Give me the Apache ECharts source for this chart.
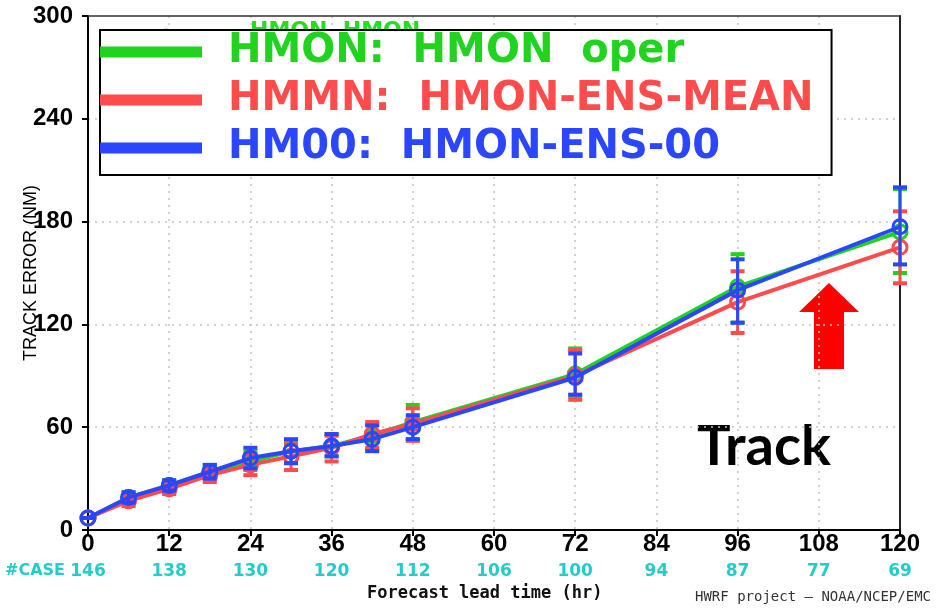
<!DOCTYPE html>
<html>
<head>
<meta charset="utf-8">
<script src="https://cdn.jsdelivr.net/npm/echarts@6/dist/echarts.min.js"></script>
<style>html,body{margin:0;padding:0;background:#fff}#c{width:936px;height:608px}</style>
</head>
<body>
<div id="c"></div>
<script>
var hours = [0, 6, 12, 18, 24, 30, 36, 42, 48, 72, 96, 120];
var xTicks = [0, 12, 24, 36, 48, 60, 72, 84, 96, 108, 120];
var caseCounts = [146, 138, 130, 120, 112, 106, 100, 94, 87, 77, 69];
var yTicks = [0, 60, 120, 180, 240, 300];

var hmonMean = [7, 19, 26, 34, 40, 46, 49, 55, 63, 91, 142, 174];
var hmonLow  = [7, 16, 23, 30, 35, 39, 43, 47, 53, 78, 121, 150];
var hmonHigh = [7, 22, 29, 38, 46, 52, 56, 62, 73, 106, 161, 199];

var hmmnMean = [7, 17, 24, 32, 38, 43, 48, 56, 62, 90, 133, 165];
var hmmnLow  = [7, 14, 21, 28, 32, 35, 40, 48, 52, 76, 115, 144];
var hmmnHigh = [7, 20, 27, 36, 44, 50, 55, 63, 71, 105, 151, 186];

var hm00Mean = [7, 19, 26, 34, 42, 46, 49, 53, 60, 89, 140, 177];
var hm00Low  = [7, 16, 23, 30, 36, 39, 43, 46, 53, 79, 121, 155];
var hm00High = [7, 22, 29, 38, 48, 53, 56, 61, 67, 103, 158, 200];

var seriesNames = ['HMON:  HMON  oper', 'HMMN:  HMON-ENS-MEAN', 'HM00:  HMON-ENS-00'];
var seriesColors = ['#1fd31f', '#ff4b4b', '#2b46ff'];

function pairs(xs, ys) { return xs.map(function (x, i) { return [x, ys[i]]; }); }
function triples(xs, lo, hi) { return xs.map(function (x, i) { return [x, lo[i], hi[i]]; }); }

function errSeries(name, color, lo, hi, z) {
  return {
    type: 'custom', name: name, z: z, clip: false, silent: true,
    data: triples(hours, lo, hi),
    encode: { x: 0, y: [1, 2] },
    renderItem: function (params, api) {
      var x = api.value(0);
      var pLo = api.coord([x, api.value(1)]);
      var pHi = api.coord([x, api.value(2)]);
      var w = 7;
      var st = { stroke: color, lineWidth: 3 };
      var cap = { stroke: color, lineWidth: 4 };
      return { type: 'group', children: [
        { type: 'line', shape: { x1: pLo[0], y1: pLo[1], x2: pHi[0], y2: pHi[1] }, style: st },
        { type: 'line', shape: { x1: pLo[0] - w, y1: pLo[1], x2: pLo[0] + w, y2: pLo[1] }, style: cap },
        { type: 'line', shape: { x1: pHi[0] - w, y1: pHi[1], x2: pHi[0] + w, y2: pHi[1] }, style: cap }
      ]};
    }
  };
}
function lineSeries(name, color, vals, z) {
  return {
    type: 'line', name: name, z: z, clip: false, color: color,
    data: pairs(hours, vals),
    symbol: 'circle', symbolSize: 14, showSymbol: true,
    lineStyle: { width: 4, color: color },
    itemStyle: { color: 'rgba(0,0,0,0)', borderColor: color, borderWidth: 3 }
  };
}

var gridSplit = { show: true, showMinLine: false, showMaxLine: false, lineStyle: { color: '#c4c4c4', type: [2, 5], width: 1.5 } };

var chart = echarts.init(document.getElementById('c'), null, { renderer: 'canvas' });
chart.setOption({
  animation: false,
  backgroundColor: '#fff',
  grid: { left: 88, right: 36, top: 16, bottom: 78, show: false },
  xAxis: [{
    type: 'value', min: 0, max: 120, interval: 12,
    axisLine: { lineStyle: { color: '#000', width: 2 } },
    axisTick: { show: true, length: 6, lineStyle: { color: '#000', width: 2 } },
    splitLine: gridSplit,
    axisLabel: {
      margin: 3,
      formatter: function (v) {
        var i = xTicks.indexOf(v);
        return '{t|' + v + '}\n{c|' + (i >= 0 ? caseCounts[i] : '') + '}';
      },
      rich: {
        t: { fontFamily: 'Liberation Sans', fontWeight: 'bold', fontSize: 24, lineHeight: 22, color: '#000' },
        c: { fontFamily: 'DejaVu Sans', fontWeight: 'bold', fontSize: 17, lineHeight: 34, color: '#22cccc' }
      }
    }
  }, {
    type: 'value', min: 0, max: 120, position: 'top',
    axisLine: { show: true, onZero: false, lineStyle: { color: '#333', width: 1.5 } },
    axisTick: { show: false }, axisLabel: { show: false }, splitLine: { show: false }
  }],
  yAxis: [{
    type: 'value', min: 0, max: 300, interval: 60,
    name: 'TRACK ERROR (NM)', nameLocation: 'middle', nameGap: 48, nameRotate: 90, nameMoveOverlap: false,
    nameTextStyle: { fontFamily: 'Liberation Sans', fontSize: 18, color: '#000' },
    axisLine: { show: true, lineStyle: { color: '#000', width: 2 } },
    axisTick: { show: true, length: 6, lineStyle: { color: '#000', width: 2 } },
    splitLine: gridSplit,
    axisLabel: {
      margin: 15, color: '#000',
      fontFamily: 'Liberation Sans', fontWeight: 'bold', fontSize: 24,
      formatter: function (v) { return yTicks.indexOf(v) >= 0 ? String(v) : ''; }
    }
  }, {
    type: 'value', min: 0, max: 300, position: 'right',
    axisLine: { show: true, onZero: false, lineStyle: { color: '#222', width: 2 } },
    axisTick: { show: false }, axisLabel: { show: false }, splitLine: { show: false }
  }],
  legend: {
    left: 100, top: 30, orient: 'vertical', selectedMode: false,
    icon: 'rect', itemWidth: 100, itemHeight: 9, itemGap: 4,
    padding: [0, 18, 5, 0],
    backgroundColor: '#fff', borderColor: '#000', borderWidth: 2,
    textStyle: { fontFamily: 'DejaVu Sans', fontWeight: 'bold', fontSize: 40, lineHeight: 44, padding: [0, 0, 0, 22] },
    data: seriesNames.map(function (n, i) { return { name: n, itemStyle: { color: seriesColors[i] }, textStyle: { color: seriesColors[i] } }; })
  },
  graphic: [
    { type: 'text', left: 250, top: 20, z: 0, style: { text: 'HMON  HMON', fontFamily: 'DejaVu Sans', fontWeight: 'bold', fontSize: 22, fill: '#22dd22' } },
    { type: 'circle', shape: { cx: 166, cy: 36, r: 6 }, z: 0, style: { fill: 'none', stroke: '#22dd22', lineWidth: 3 } },
    { type: 'text', left: 5, top: 563, style: { text: '#CASE', fontFamily: 'DejaVu Sans', fontWeight: 'bold', fontSize: 16, fill: '#22cccc' } },
    { type: 'text', left: 367, top: 585, style: { text: 'Forecast lead time (hr)', fontFamily: 'DejaVu Sans Mono', fontWeight: 'bold', fontSize: 17, fill: '#111' } },
    { type: 'text', left: 695, top: 590, style: { text: 'HWRF project \u2014 NOAA/NCEP/EMC', fontFamily: 'DejaVu Sans Mono', fontSize: 14, fill: '#333' } },
    { type: 'text', left: 697, top: 419, style: { text: 'Track', fontFamily: 'Lato', fontWeight: 'bold', fontSize: 56, fill: '#000' } },
    { type: 'polygon', shape: { points: [[829, 283], [859, 312], [844, 312], [844, 369], [814, 369], [814, 312], [799, 312]] }, style: { fill: '#ff0000' } }
  ],
  series: [
    errSeries('errHMON', seriesColors[0], hmonLow, hmonHigh, 2),
    lineSeries(seriesNames[0], seriesColors[0], hmonMean, 3),
    errSeries('errHMMN', seriesColors[1], hmmnLow, hmmnHigh, 4),
    lineSeries(seriesNames[1], seriesColors[1], hmmnMean, 5),
    errSeries('errHM00', seriesColors[2], hm00Low, hm00High, 6),
    lineSeries(seriesNames[2], seriesColors[2], hm00Mean, 7)
  ]
});
</script>
</body>
</html>
